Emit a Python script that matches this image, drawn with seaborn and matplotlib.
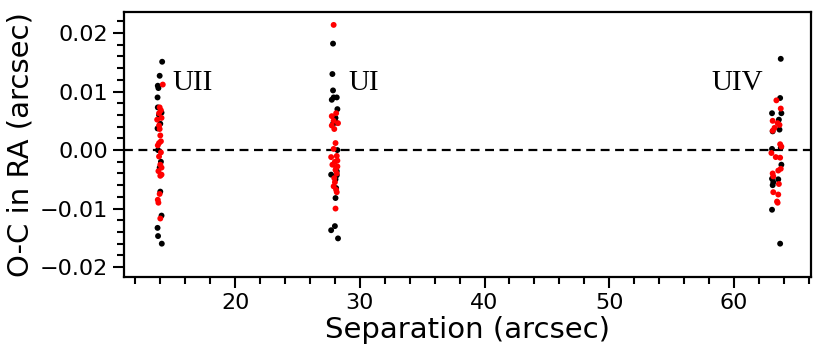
import numpy as np
import pandas as pd
import matplotlib
matplotlib.use("Agg")
import matplotlib.pyplot as plt
import seaborn as sns
from matplotlib.ticker import MultipleLocator

# --- data ---
# UII cluster
uii_black_sep = [14.15, 13.95, 13.80, 13.85, 13.78, 13.80, 14.10, 13.78, 14.05, 13.95, 14.00, 14.10, 13.78, 13.82, 14.12, 13.90, 13.82, 14.00]
uii_black_oc = [0.0151, 0.0127, 0.0110, 0.0106, 0.0090, 0.0073, 0.0064, 0.0037, -0.0020, -0.0030, -0.0071, -0.0112, -0.0133, -0.0147, -0.0160, 0.0060, 0.0000, 0.0045]
uii_red_sep = [14.20, 13.95, 14.05, 13.90, 14.10, 13.75, 13.90, 13.95, 14.00, 14.05, 13.90, 13.80, 14.05, 13.90, 14.00, 14.10, 13.85, 14.10, 14.00, 13.80, 13.85, 13.95, 14.00]
uii_red_oc = [0.0112, 0.0073, 0.0068, 0.0063, 0.0055, 0.0052, 0.0042, 0.0036, 0.0025, 0.0015, 0.0012, 0.0008, -0.0004, -0.0011, -0.0025, -0.0030, -0.0036, -0.0042, -0.0044, -0.0085, -0.0090, -0.0075, -0.0117]

# UI cluster
ui_black_sep = [27.85, 27.80, 27.85, 27.90, 28.15, 27.75, 28.20, 28.05, 27.85, 28.10, 28.20, 28.15, 27.70, 28.15, 28.05, 28.10, 28.05, 27.70, 28.25, 28.00]
ui_black_oc = [0.0182, 0.0130, 0.0102, 0.0090, 0.0090, 0.0086, 0.0070, 0.0055, 0.0045, 0.0047, 0.0000, -0.0036, -0.0042, -0.0043, -0.0050, -0.0065, -0.0082, -0.0137, -0.0151, -0.0130]
ui_red_sep = [27.90, 28.10, 27.75, 27.90, 28.25, 27.75, 27.95, 28.05, 27.90, 27.70, 28.15, 28.00, 28.20, 27.80, 28.10, 28.20, 28.05, 28.15, 27.95, 28.00, 27.90, 28.10, 28.15, 28.05]
ui_red_oc = [0.0214, 0.0063, 0.0058, 0.0050, 0.0046, 0.0042, 0.0036, 0.0012, 0.0002, -0.0012, -0.0010, -0.0020, -0.0018, -0.0025, -0.0030, -0.0028, -0.0034, -0.0040, -0.0048, -0.0055, -0.0062, -0.0068, -0.0072, -0.0100]

# UIV cluster
uiv_black_sep = [63.75, 63.70, 63.05, 63.80, 63.60, 63.10, 63.65, 63.05, 63.75, 63.80, 63.05, 63.15, 63.55, 63.10, 63.05, 63.70]
uiv_black_oc = [0.0156, 0.0089, 0.0063, 0.0063, 0.0052, 0.0032, 0.0035, 0.0002, 0.0004, -0.0025, -0.0049, -0.0055, -0.0050, -0.0060, -0.0102, -0.0160]
uiv_red_sep = [63.40, 63.75, 63.10, 63.50, 63.65, 63.25, 63.10, 63.70, 63.80, 63.00, 63.35, 63.70, 63.75, 63.55, 63.10, 63.15, 63.60, 63.15, 63.55, 63.45, 63.50]
uiv_red_oc = [0.0085, 0.0071, 0.0050, 0.0046, 0.0043, 0.0038, 0.0033, 0.0010, 0.0006, -0.0005, -0.0012, -0.0013, -0.0032, -0.0035, -0.0040, -0.0045, -0.0058, -0.0072, -0.0076, -0.0088, -0.0090]

labels = ["UII", "UI", "UIV"]
label_x = [14.95, 29.1, 58.2]
label_y = [0.0115, 0.0115, 0.0115]

x_ticks = [20, 30, 40, 50, 60]
y_ticks = [-0.02, -0.01, 0.00, 0.01, 0.02]

# --- build table ---
frames = []
for sep, oc, col in [
    (uii_black_sep, uii_black_oc, "black"), (ui_black_sep, ui_black_oc, "black"), (uiv_black_sep, uiv_black_oc, "black"),
    (uii_red_sep, uii_red_oc, "red"), (ui_red_sep, ui_red_oc, "red"), (uiv_red_sep, uiv_red_oc, "red"),
]:
    frames.append(pd.DataFrame({"sep": sep, "oc": oc, "group": col}))
df = pd.concat(frames, ignore_index=True)

sns.set_style("ticks")
plt.rcParams["font.family"] = ["DejaVu Sans"]
plt.rcParams["text.color"] = "black"
plt.rcParams["axes.labelcolor"] = "black"

fig = plt.figure(figsize=(8.22, 3.54), dpi=100)
ax = fig.add_axes([0.151, 0.2175, 0.836, 0.7485])

sns.scatterplot(data=df, x="sep", y="oc", hue="group", palette={"black": "black", "red": "red"},
                s=18, linewidth=0, legend=False, ax=ax, zorder=3)

ax.axhline(0, color="black", linestyle="--", linewidth=1.6, dashes=(4, 2.5), zorder=2)

for t, x, y in zip(labels, label_x, label_y):
    ax.text(x, y, t, fontsize=21, family="Liberation Serif", va="center", ha="left", color="black")

ax.set_xlim(11.1, 66.2)
ax.set_ylim(-0.0217, 0.0236)
ax.set_xticks(x_ticks)
ax.set_yticks(y_ticks)
ax.xaxis.set_minor_locator(MultipleLocator(2))
ax.yaxis.set_minor_locator(MultipleLocator(0.002))
ax.set_yticklabels(["\u22120.02", "\u22120.01", "0.00", "0.01", "0.02"])

ax.tick_params(which="major", direction="out", length=8, width=1.5, labelsize=16, color="black", labelcolor="black")
ax.tick_params(which="minor", direction="out", length=5, width=1.5, color="black")
for sp in ax.spines.values():
    sp.set_linewidth(1.6)
    sp.set_color("black")

ax.set_xlabel("Separation (arcsec)", fontsize=21, labelpad=2, color="black")
ax.set_ylabel("O-C in RA (arcsec)", fontsize=21, labelpad=4, color="black")

fig.savefig("out.png", dpi=100)
